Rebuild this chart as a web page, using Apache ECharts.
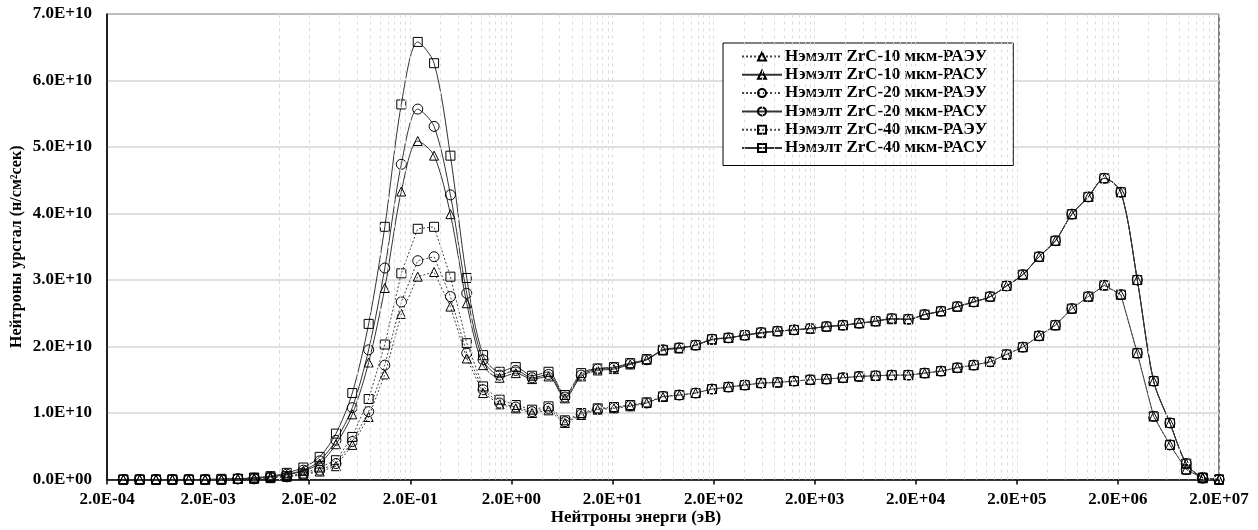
<!DOCTYPE html>
<html>
<head>
<meta charset="utf-8">
<script src="https://cdn.jsdelivr.net/npm/echarts@6/dist/echarts.min.js"></script>
<style>html,body{margin:0;padding:0;background:#fff}#c{width:1258px;height:530px}</style>
</head>
<body>
<div id="c"></div>
<script>
// Neutron energies (eV) of the plotted points
const energies = [2.90e-4, 4.21e-4, 6.11e-4, 8.87e-4, 1.29e-3, 1.87e-3, 2.71e-3, 3.94e-3, 5.71e-3, 8.29e-3,
  1.20e-2, 1.75e-2, 2.54e-2, 3.68e-2, 5.34e-2, 7.75e-2, 0.112, 0.163, 0.237, 0.344,
  0.499, 0.724, 1.05, 1.53, 2.21, 3.21, 4.66, 6.77, 9.82, 14.3,
  20.7, 30.0, 43.6, 63.2, 91.8, 133, 193, 281, 407, 591,
  858, 1.25e3, 1.81e3, 2.62e3, 3.81e3, 5.52e3, 8.02e3, 1.16e4, 1.69e4, 2.45e4,
  3.56e4, 5.16e4, 7.49e4, 1.09e5, 1.58e5, 2.29e5, 3.32e5, 4.82e5, 7.00e5, 1.02e6,
  1.47e6, 2.14e6, 3.11e6, 4.51e6, 6.54e6, 9.49e6, 1.38e7, 2.0e7];

// Flux values in units of 1E+10 n/(cm2 s)
const zrc10_raeu = [0,0,0,0,0,0,0,0.01,0.01,0.02,
  0.04,0.07,0.12,0.20,0.52,0.94,1.58,2.49,3.05,3.12,
  2.60,1.82,1.30,1.13,1.07,1.00,1.04,0.85,0.97,1.05,
  1.07,1.10,1.15,1.24,1.27,1.30,1.36,1.39,1.42,1.45,
  1.46,1.48,1.50,1.51,1.53,1.55,1.56,1.57,1.57,1.60,
  1.63,1.68,1.72,1.77,1.88,1.99,2.16,2.32,2.57,2.75,
  2.92,2.78,1.90,0.95,0.52,0.15,0.02,0];
const zrc10_rasu = [0,0,0,0,0,0,0,0.01,0.02,0.04,
  0.07,0.13,0.24,0.53,0.98,1.76,2.88,4.33,5.09,4.87,
  3.99,2.65,1.72,1.53,1.60,1.51,1.55,1.22,1.55,1.64,
  1.66,1.73,1.80,1.94,1.97,2.02,2.10,2.13,2.17,2.20,
  2.23,2.25,2.27,2.30,2.32,2.35,2.38,2.41,2.41,2.48,
  2.53,2.60,2.67,2.75,2.91,3.08,3.35,3.59,3.99,4.25,
  4.53,4.32,3.00,1.48,0.85,0.24,0.03,0];
const zrc20_raeu = [0,0,0,0,0,0,0,0.01,0.01,0.03,
  0.04,0.08,0.14,0.24,0.57,1.02,1.72,2.67,3.29,3.35,
  2.75,1.90,1.35,1.15,1.09,1.02,1.07,0.87,0.98,1.06,
  1.08,1.11,1.15,1.25,1.27,1.30,1.36,1.39,1.42,1.45,
  1.46,1.48,1.50,1.51,1.53,1.55,1.56,1.57,1.57,1.60,
  1.63,1.68,1.72,1.77,1.88,1.99,2.16,2.32,2.57,2.75,
  2.92,2.78,1.90,0.95,0.52,0.15,0.02,0];
const zrc20_rasu = [0,0,0,0,0,0,0,0.01,0.02,0.04,
  0.08,0.14,0.28,0.59,1.08,1.95,3.18,4.74,5.57,5.31,
  4.28,2.80,1.80,1.57,1.64,1.53,1.58,1.24,1.57,1.66,
  1.68,1.74,1.80,1.95,1.98,2.02,2.11,2.13,2.17,2.21,
  2.23,2.25,2.27,2.30,2.32,2.35,2.38,2.42,2.41,2.48,
  2.53,2.60,2.67,2.75,2.91,3.08,3.35,3.59,3.99,4.25,
  4.53,4.32,3.00,1.48,0.85,0.24,0.03,0];
const zrc40_raeu = [0,0,0,0,0,0,0,0.01,0.02,0.03,
  0.05,0.09,0.18,0.29,0.64,1.21,2.03,3.10,3.77,3.80,
  3.05,2.05,1.40,1.20,1.12,1.05,1.10,0.89,1.00,1.07,
  1.09,1.12,1.16,1.25,1.27,1.30,1.36,1.39,1.42,1.45,
  1.46,1.48,1.50,1.51,1.53,1.55,1.56,1.57,1.57,1.60,
  1.63,1.68,1.72,1.77,1.88,1.99,2.16,2.32,2.57,2.75,
  2.92,2.78,1.90,0.95,0.52,0.15,0.02,0];
const zrc40_rasu = [0,0,0,0,0,0,0.01,0.01,0.03,0.05,
  0.10,0.18,0.34,0.69,1.30,2.34,3.80,5.64,6.58,6.26,
  4.87,3.03,1.87,1.62,1.69,1.56,1.62,1.27,1.60,1.67,
  1.69,1.75,1.81,1.95,1.98,2.02,2.11,2.13,2.17,2.21,
  2.23,2.25,2.27,2.30,2.32,2.35,2.38,2.42,2.41,2.48,
  2.53,2.60,2.67,2.75,2.91,3.08,3.35,3.59,3.99,4.25,
  4.53,4.32,3.00,1.48,0.85,0.24,0.03,0];

const seriesNames = ['Нэмэлт ZrC-10 мкм-РАЭУ','Нэмэлт ZrC-10 мкм-РАСУ','Нэмэлт ZrC-20 мкм-РАЭУ',
  'Нэмэлт ZrC-20 мкм-РАСУ','Нэмэлт ZrC-40 мкм-РАЭУ','Нэмэлт ZrC-40 мкм-РАСУ'];
const xTickValues = [2e-4, 2e-3, 2e-2, 2e-1, 2e0, 2e1, 2e2, 2e3, 2e4, 2e5, 2e6, 2e7];
const yMax = 7e10, yStep = 1e10;
const UNIT = 1e10;

const FONT = '"Liberation Serif", "Times New Roman", serif';
function fmtExp(v) {
  if (v === 0) return '0.0E+00';
  let e = Math.floor(Math.log10(Math.abs(v)) + 1e-9);
  let m = v / Math.pow(10, e);
  if (m >= 9.95) { m /= 10; e += 1; }
  const sign = e < 0 ? '-' : '+';
  const ae = Math.abs(e);
  return m.toFixed(1) + 'E' + sign + (ae < 10 ? '0' : '') + ae;
}

// minor vertical grid positions (Excel-like log minor gridlines)
const gridX = [];
for (let n = -4; n <= 6; n++) {
  for (let m = 2; m <= 10; m++) gridX.push(m * 2 * Math.pow(10, n));
}

const styles = [
  {symbol: 'triangle', dotted: true},
  {symbol: 'triangle', dotted: false},
  {symbol: 'circle', dotted: true},
  {symbol: 'circle', dotted: false},
  {symbol: 'rect', dotted: true},
  {symbol: 'rect', dotted: false}
];
const datasets = [zrc10_raeu, zrc10_rasu, zrc20_raeu, zrc20_rasu, zrc40_raeu, zrc40_rasu];

const series = datasets.map((arr, i) => ({
  name: seriesNames[i],
  type: 'line',
  data: arr.map((v, k) => [energies[k], v * UNIT]),
  symbol: styles[i].symbol,
  symbolSize: styles[i].symbol === 'circle' ? 10 : 9,
  smooth: styles[i].dotted ? false : 0.3,
  clip: false,
  z: 3,
  lineStyle: {
    color: styles[i].dotted ? '#444' : '#333',
    width: 1,
    type: styles[i].dotted ? [2, 2] : 'solid'
  },
  itemStyle: {color: 'rgba(0,0,0,0)', borderColor: '#000', borderWidth: 1}
}));

series.push({
  name: 'grid',
  type: 'line',
  data: [],
  z: 1,
  silent: true,
  markLine: {
    silent: true,
    symbol: 'none',
    label: {show: false},
    animation: false,
    lineStyle: {color: '#dcdcdc', width: 1, type: [3, 4]},
    data: gridX.map(v => ({xAxis: v}))
  }
});

const chart = echarts.init(document.getElementById('c'));
chart.setOption({
  animation: false,
  backgroundColor: '#fff',
  textStyle: {fontFamily: FONT},
  grid: {left: 107, right: 39, top: 14, bottom: 50.5, containLabel: false, outerBoundsMode: 'none',
    show: true, borderColor: '#000', borderWidth: 1},
  legend: {
    data: seriesNames,
    orient: 'vertical',
    left: 723, top: 43,
    itemWidth: 40, itemHeight: 10, itemGap: 1.3,
    padding: [5, 26, 9, 18],
    borderColor: '#000', borderWidth: 1,
    backgroundColor: '#fff',
    textStyle: {fontFamily: FONT, fontWeight: 'bold', fontSize: 17, color: '#000', padding: [0, 0, 0, -2]}
  },
  xAxis: {
    type: 'log', logBase: 10, min: 2e-4, max: 2e7,
    name: 'Нейтроны энерги (эВ)', nameLocation: 'middle', nameGap: 30, nameMoveOverlap: false,
    nameTextStyle: {fontFamily: FONT, fontWeight: 'bold', fontSize: 17, color: '#000', padding: [0, 54, 0, 0]},
    axisLine: {lineStyle: {color: '#000', width: 1.5}},
    axisTick: {show: true, length: 5, customValues: xTickValues, lineStyle: {color: '#000', width: 1.5}},
    axisLabel: {customValues: xTickValues, formatter: v => fmtExp(v), margin: 12,
      fontFamily: FONT, fontWeight: 'bold', fontSize: 17, color: '#000'},
    splitLine: {show: false},
    minorTick: {show: false}
  },
  yAxis: {
    type: 'value', min: 0, max: yMax, interval: yStep,
    name: 'Нейтроны урсгал (н/см²сек)', nameLocation: 'middle', nameGap: 82, nameMoveOverlap: false,
    nameTextStyle: {fontFamily: FONT, fontWeight: 'bold', fontSize: 16, color: '#000'},
    axisLine: {show: true, lineStyle: {color: '#000', width: 1.5}},
    axisTick: {show: false},
    axisLabel: {formatter: v => fmtExp(v), margin: 15, fontFamily: FONT, fontWeight: 'bold', fontSize: 17, color: '#000'},
    splitLine: {show: true, lineStyle: {color: '#d4d4d4', width: 1.5}}
  },
  series: series
});
</script>
</body>
</html>
